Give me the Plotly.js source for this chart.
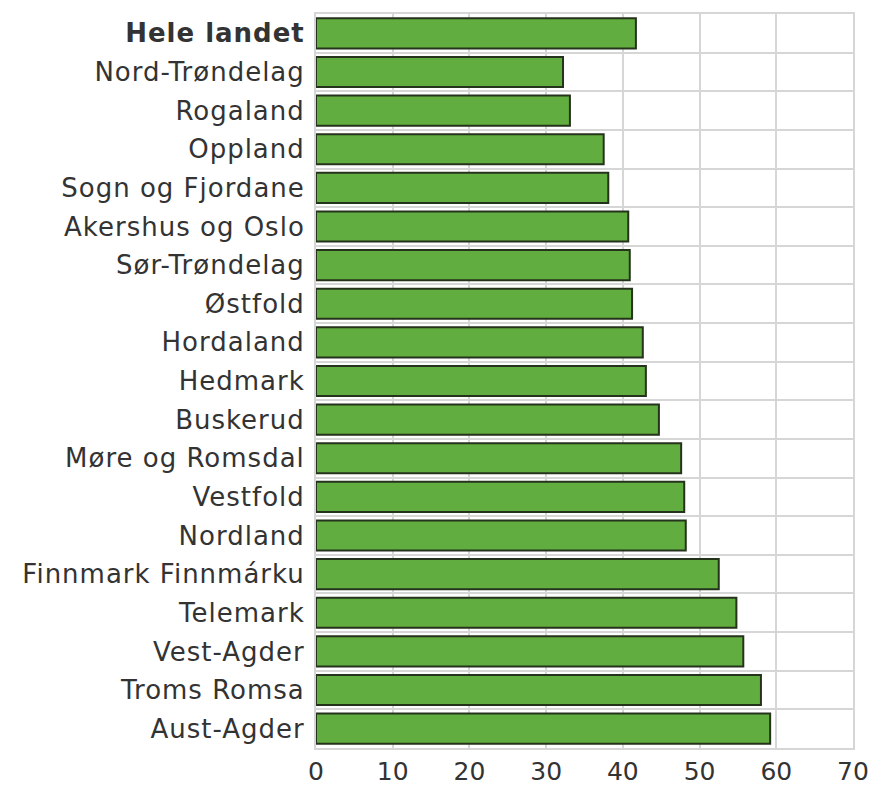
<!DOCTYPE html>
<html>
<head>
<meta charset="utf-8">
<script src="https://cdn.plot.ly/plotly-3.0.1.min.js"></script>
<style>
html,body{margin:0;padding:0;background:#fff;}
#chart{width:874px;height:785px;}
#chart .ytick text{letter-spacing:1px;}
</style>
</head>
<body>
<div id="chart"></div>
<script>
const regions = [
  "<b>Hele landet</b>", "Nord-Trøndelag", "Rogaland", "Oppland", "Sogn og Fjordane",
  "Akershus og Oslo", "Sør-Trøndelag", "Østfold", "Hordaland", "Hedmark",
  "Buskerud", "Møre og Romsdal", "Vestfold", "Nordland", "Finnmark Finnmárku",
  "Telemark", "Vest-Agder", "Troms Romsa", "Aust-Agder"
];
const values = [
  41.7, 32.2, 33.1, 37.5, 38.1,
  40.7, 40.9, 41.2, 42.6, 43.0,
  44.7, 47.6, 48.0, 48.2, 52.5,
  54.8, 55.7, 58.0, 59.2
];
const xTicks = [0, 10, 20, 30, 40, 50, 60, 70];

const trace = {
  type: "bar",
  orientation: "h",
  y: regions,
  x: values,
  marker: { color: "#62ad3f", line: { color: "#25331c", width: 2 } },
  hoverinfo: "none"
};

const layout = {
  width: 874, height: 785,
  margin: { l: 316, r: 21, t: 14, b: 37 },
  paper_bgcolor: "#ffffff",
  plot_bgcolor: "#ffffff",
  bargap: 0.22,
  showlegend: false,
  font: { family: "DejaVu Sans, sans-serif", size: 26, color: "#333333" },
  xaxis: {
    range: [0, 70],
    tickvals: xTicks,
    ticktext: xTicks.map(String),
    showgrid: true, gridcolor: "#d6d6d6", gridwidth: 2,
    zeroline: false,
    showline: true, linecolor: "#d6d6d6", linewidth: 2, mirror: true,
    ticks: "", tickfont: { size: 25, color: "#333333" },
    fixedrange: true
  },
  yaxis: {
    type: "category",
    autorange: "reversed",
    tickson: "boundaries",
    showgrid: true, gridcolor: "#d6d6d6", gridwidth: 2,
    showline: true, linecolor: "#d6d6d6", linewidth: 2, mirror: true,
    ticks: "", ticklabelstandoff: 4,
    tickfont: { size: 26, color: "#333333" },
    fixedrange: true
  }
};

Plotly.newPlot("chart", [trace], layout, { staticPlot: true, displayModeBar: false });
</script>
</body>
</html>
